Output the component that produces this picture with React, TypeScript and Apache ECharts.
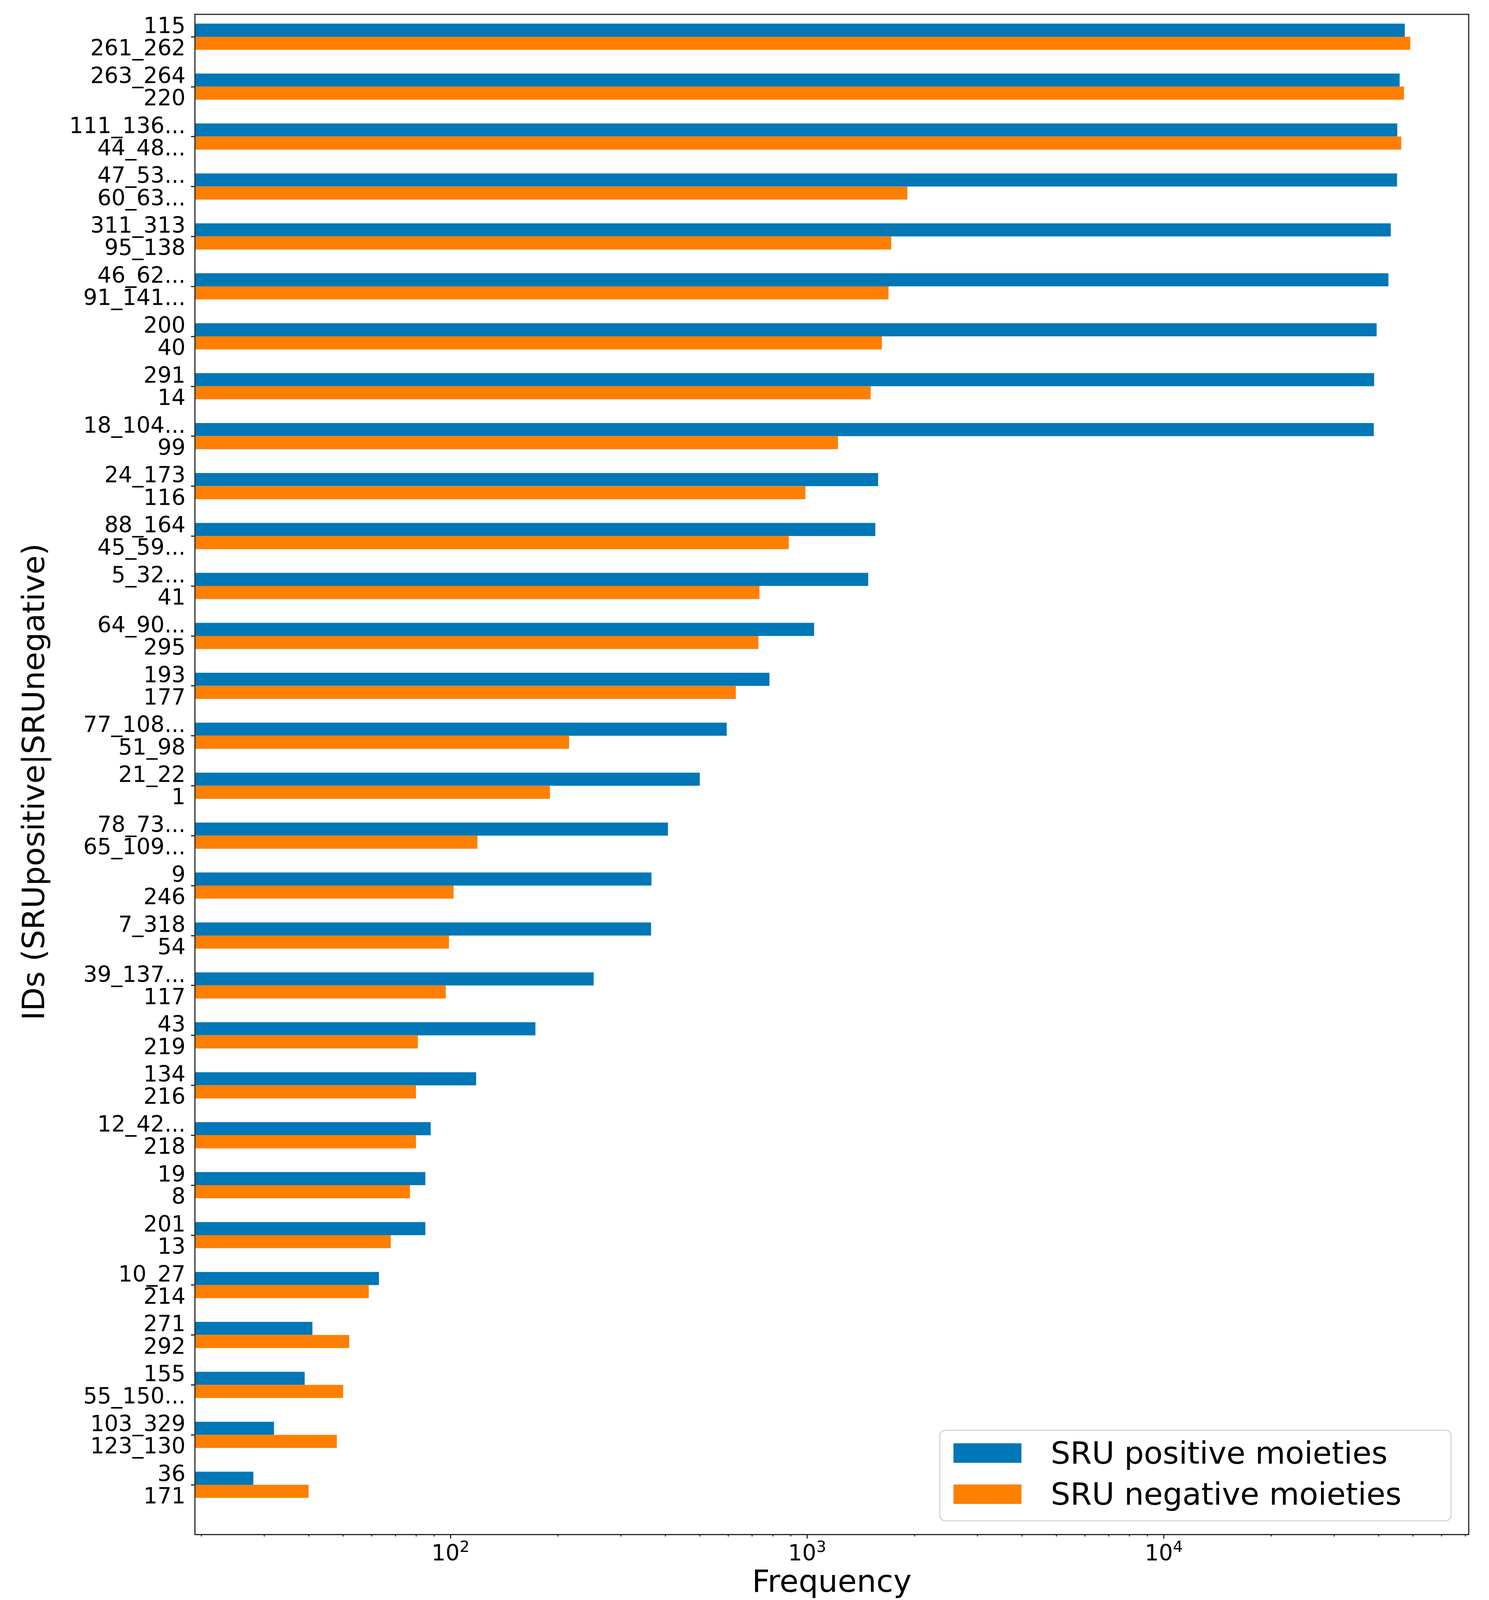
import React, { useEffect, useRef } from 'react';
import * as echarts from 'echarts';

// IDs of the SRU positive / negative moieties (one pair per row, top to bottom)
const positiveIds = [
  '115', '263_264', '111_136...', '47_53...', '311_313', '46_62...', '200', '291', '18_104...', '24_173',
  '88_164', '5_32...', '64_90...', '193', '77_108...', '21_22', '78_73...', '9', '7_318', '39_137...',
  '43', '134', '12_42...', '19', '201', '10_27', '271', '155', '103_329', '36',
];
const negativeIds = [
  '261_262', '220', '44_48...', '60_63...', '95_138', '91_141...', '40', '14', '99', '116',
  '45_59...', '41', '295', '177', '51_98', '1', '65_109...', '246', '54', '117',
  '219', '216', '218', '8', '13', '214', '292', '55_150...', '123_130', '171',
];

// Frequencies
const positiveFreq = [
  47400, 45850, 45150, 45080, 43300, 42640, 39530, 38890, 38790, 1581,
  1553, 1483, 1046, 784, 595, 500, 407, 366, 365, 252,
  173, 118, 88, 85, 85, 63, 41, 39, 32, 28,
];
const negativeFreq = [
  49100, 47160, 46320, 1910, 1721, 1691, 1620, 1507, 1220, 989,
  888, 735, 730, 631, 215, 190, 119, 102, 99, 97,
  81, 80, 80, 77, 68, 59, 52, 50, 48, 40,
];

const majorTicks = [100, 1000, 10000];
const minorTicks = [
  20, 30, 40, 50, 60, 70, 80, 90,
  200, 300, 400, 500, 600, 700, 800, 900,
  2000, 3000, 4000, 5000, 6000, 7000, 8000, 9000,
  20000, 30000, 40000, 50000, 60000, 70000,
];
const xMin = 19.2;
const xMax = 71600;

const seriesNames = ['SRU positive moieties', 'SRU negative moieties'];
const yTitle = 'IDs (SRUpositive|SRUnegative)';
const xTitle = 'Frequency';

const BLUE = '#0077b7';
const ORANGE = '#ff7f00';
const FONT = 'DejaVu Sans';
const INK = '#262626';

const REF_W = 3812;
const REF_H = 5014;

export default function App() {
  const ref = useRef<HTMLDivElement>(null);
  const H = typeof window !== 'undefined' && window.innerHeight
    ? Math.min(REF_H, window.innerHeight)
    : REF_H;

  useEffect(() => {
    if (!ref.current) return;
    document.body.style.margin = '0';
    document.body.style.background = '#fff';
    const chart = echarts.init(ref.current, null, { renderer: 'svg' });

    const sy = H / REF_H;          // vertical fit into the viewport
    const fs = Math.sqrt(sy);      // font scale
    const Y = (v: number) => v * sy;

    const categories = positiveIds.map((p, i) => p + '\n' + negativeIds[i]);

    const frameLeft = 499;
    const frameRight = 3760;
    const frameTop = Y(45);
    const frameBottom = Y(4809);
    const band = Y(156.48);
    const gridTop = Y(115) - band / 2;
    const gridHeight = band * categories.length;
    const axisOffset = frameBottom - (gridTop + gridHeight);

    const tickFont = 62.5 * fs;
    const bigFont = 87.5 * fs;

    // legend box geometry (reference: box 2406..3715 x 4482..4766, handles centred at 4553.5 and 4682.5)
    const legendTextWidth = 11.357 * bigFont;
    const legendRightPad = Math.max(20, 3715 - (2690 + legendTextWidth));
    const legendItemH = Math.max(Y(61), bigFont);
    const legendGap = Y(129) - legendItemH;
    const legendPadTop = Y(4553.5 - 4482) - legendItemH / 2;
    const legendPadBottom = Y(4766 - 4682.5) - legendItemH / 2;

    const option: any = {
      animation: false,
      backgroundColor: '#ffffff',
      textStyle: { fontFamily: FONT, color: '#000' },
      grid: {
        left: frameLeft,
        top: gridTop,
        width: frameRight - frameLeft,
        height: gridHeight,
        containLabel: false,
      },
      legend: {
        orient: 'vertical',
        left: 2406,
        top: Y(4482),
        padding: [legendPadTop, legendRightPad, legendPadBottom, 35],
        itemWidth: 174,
        itemHeight: Y(61),
        itemGap: legendGap,
        icon: 'rect',
        backgroundColor: '#ffffff',
        borderColor: '#d5d5d5',
        borderWidth: 3,
        borderRadius: 14,
        textStyle: {
          fontFamily: FONT,
          fontSize: bigFont,
          color: '#000',
          padding: [0, 0, 0, 70],
        },
        data: seriesNames,
      },
      xAxis: [
        {
          type: 'log',
          logBase: 10,
          min: xMin,
          max: xMax,
          position: 'bottom',
          offset: axisOffset,
          name: xTitle,
          nameLocation: 'middle',
          nameGap: Y(4941) - frameBottom - bigFont / 2,
          nameTextStyle: { fontFamily: FONT, fontSize: bigFont, color: '#000' },
          axisLine: { show: false },
          splitLine: { show: false },
          minorTick: { show: false },
          axisTick: {
            show: true,
            customValues: majorTicks,
            length: 10,
            lineStyle: { color: INK, width: 3 },
          },
          axisLabel: {
            customValues: majorTicks,
            margin: 10,
            formatter: (v: number) => '{b|10}{s|' + Math.round(Math.log10(v)) + '}',
            rich: {
              b: { fontFamily: FONT, fontSize: tickFont, color: '#000', lineHeight: tickFont * 1.15, verticalAlign: 'bottom' },
              s: { fontFamily: FONT, fontSize: 44 * fs, color: '#000', lineHeight: tickFont * 1.15, verticalAlign: 'top' },
            },
          },
        },
        {
          type: 'log',
          logBase: 10,
          min: xMin,
          max: xMax,
          position: 'bottom',
          offset: axisOffset,
          axisLine: { show: false },
          splitLine: { show: false },
          axisLabel: { show: false },
          axisTick: {
            show: true,
            customValues: minorTicks,
            length: 5,
            lineStyle: { color: INK, width: 2.5 },
          },
        },
      ],
      yAxis: {
        type: 'category',
        inverse: true,
        data: categories,
        axisLine: { show: false },
        splitLine: { show: false },
        axisTick: {
          show: true,
          alignWithLabel: true,
          length: 10,
          lineStyle: { color: INK, width: 3 },
        },
        axisLabel: {
          interval: 0,
          margin: 24,
          fontFamily: FONT,
          fontSize: tickFont,
          lineHeight: Y(70),
          color: '#000',
          align: 'right',
        },
      },
      graphic: [
        {
          type: 'rect',
          z: 100,
          silent: true,
          shape: {
            x: frameLeft,
            y: frameTop,
            width: frameRight - frameLeft,
            height: frameBottom - frameTop,
          },
          style: { fill: 'none', stroke: INK, lineWidth: 3 },
        },
        {
          type: 'text',
          z: 100,
          silent: true,
          x: 86,
          y: Y(2450),
          rotation: Math.PI / 2,
          style: {
            text: yTitle,
            fontFamily: FONT,
            fontSize: bigFont,
            fill: '#000',
            textAlign: 'center',
            textVerticalAlign: 'middle',
          },
        },
      ],
      series: [
        {
          name: seriesNames[0],
          type: 'bar',
          xAxisIndex: 0,
          yAxisIndex: 0,
          data: positiveFreq,
          barWidth: Y(41),
          barGap: '0%',
          clip: true,
          itemStyle: { color: BLUE },
        },
        {
          name: seriesNames[1],
          type: 'bar',
          xAxisIndex: 0,
          yAxisIndex: 0,
          data: negativeFreq,
          barWidth: Y(41),
          barGap: '0%',
          clip: true,
          itemStyle: { color: ORANGE },
        },
      ],
    };

    chart.setOption(option);
    return () => chart.dispose();
  }, [H]);

  return <div ref={ref} style={{ width: REF_W, height: H, background: '#fff' }} />;
}
